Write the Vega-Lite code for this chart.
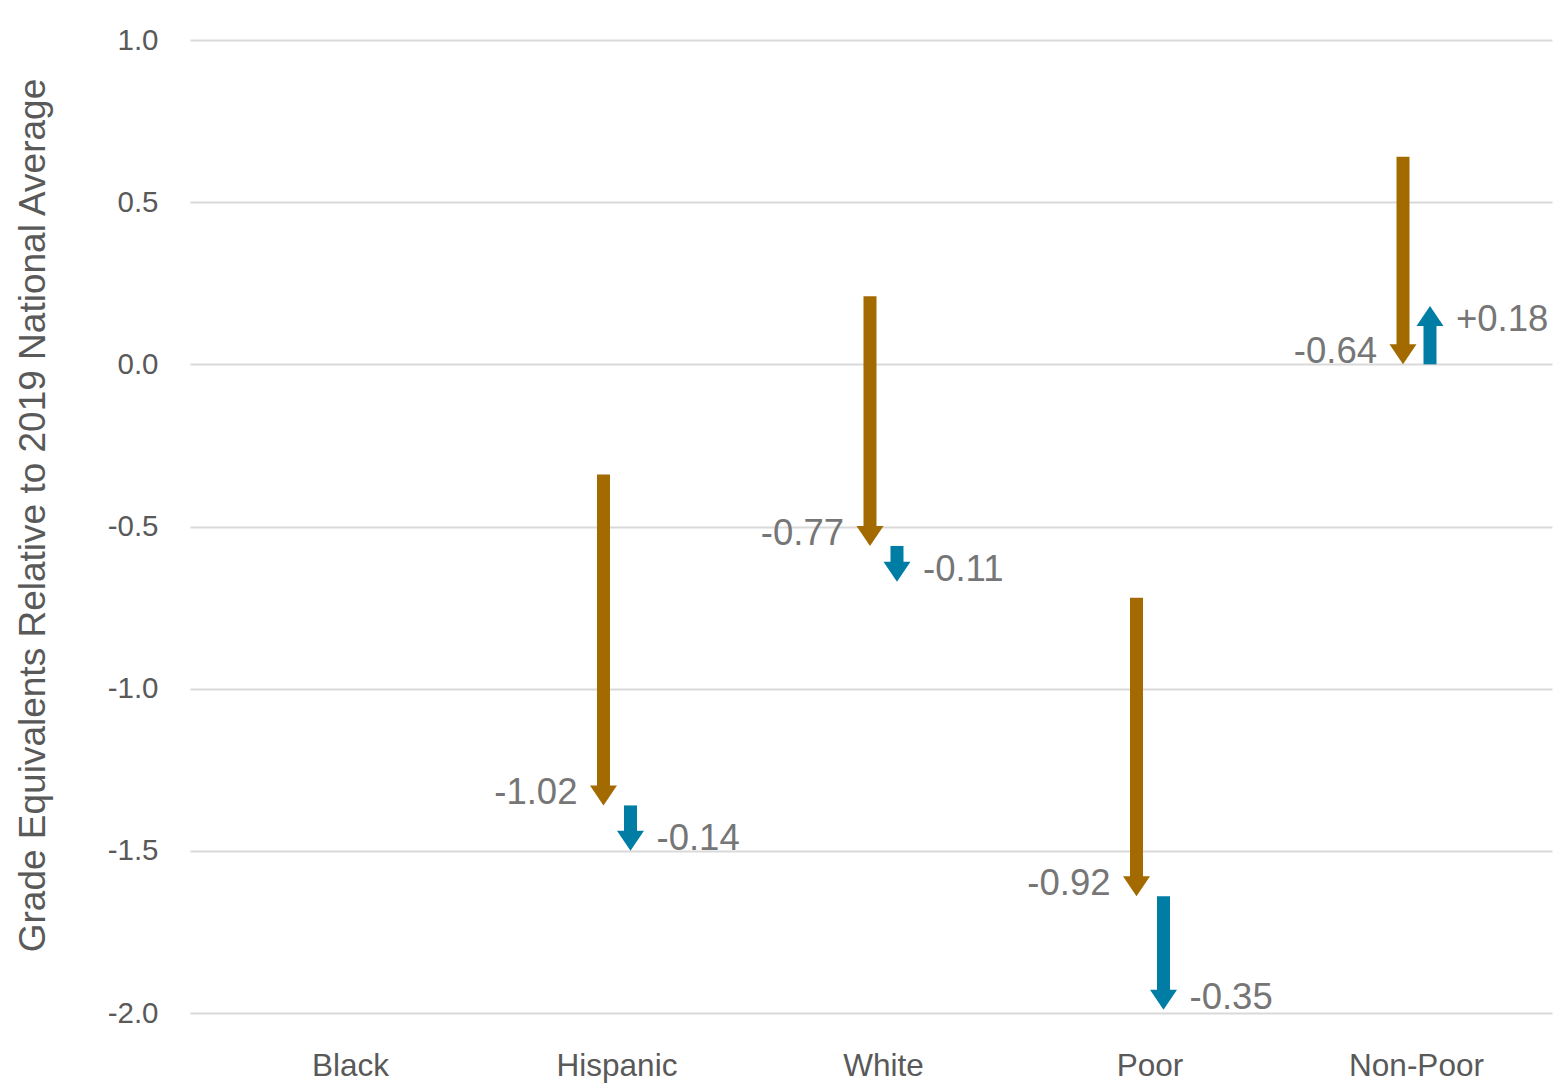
{
  "$schema": "https://vega.github.io/schema/vega-lite/v6.json",
  "autosize": "none",
  "width": 1362,
  "height": 973,
  "padding": {"left": 190, "top": 40, "right": 3, "bottom": 73},
  "background": "white",
  "config": {
    "font": "Liberation Sans",
    "view": {"stroke": null}
  },
  "data": {
    "values": [
      {"group": "Hispanic", "stage": "Stage 1", "start": -0.34, "end": -1.36, "label": "-1.02"},
      {"group": "Hispanic", "stage": "Stage 2", "start": -1.36, "end": -1.50, "label": "-0.14"},
      {"group": "White", "stage": "Stage 1", "start": 0.21, "end": -0.56, "label": "-0.77"},
      {"group": "White", "stage": "Stage 2", "start": -0.56, "end": -0.67, "label": "-0.11"},
      {"group": "Poor", "stage": "Stage 1", "start": -0.72, "end": -1.64, "label": "-0.92"},
      {"group": "Poor", "stage": "Stage 2", "start": -1.64, "end": -1.99, "label": "-0.35"},
      {"group": "Non-Poor", "stage": "Stage 1", "start": 0.64, "end": 0.0, "label": "-0.64"},
      {"group": "Non-Poor", "stage": "Stage 2", "start": 0.0, "end": 0.18, "label": "+0.18"}
    ]
  },
  "encoding": {
    "x": {
      "field": "group",
      "type": "nominal",
      "sort": null,
      "scale": {
        "type": "point",
        "domain": ["Black", "Hispanic", "White", "Poor", "Non-Poor"],
        "padding": 0.5553,
        "align": 0.5405
      },
      "axis": {
        "title": null,
        "labelAngle": 0,
        "domain": false,
        "ticks": false,
        "grid": false,
        "labelPadding": 37,
        "labelFontSize": 31.5,
        "labelColor": "#595959"
      }
    },
    "xOffset": {
      "field": "stage",
      "type": "nominal",
      "scale": {"type": "point", "domain": ["Stage 1", "Stage 2"], "range": [-13, 14], "padding": 0}
    },
    "color": {
      "field": "stage",
      "type": "nominal",
      "scale": {"domain": ["Stage 1", "Stage 2"], "range": ["#A36A00", "#007DA5"]},
      "legend": null
    }
  },
  "layer": [
    {
      "transform": [{"filter": "datum.end < datum.start"}],
      "mark": {"type": "rule", "strokeWidth": 13, "strokeCap": "butt", "y2Offset": -19},
      "encoding": {
        "y": {
          "field": "start",
          "type": "quantitative",
          "scale": {"domain": [-2, 1], "nice": false, "zero": false},
          "title": "Grade Equivalents Relative to 2019 National Average",
          "axis": {
            "values": [-2, -1.5, -1, -0.5, 0, 0.5, 1],
            "labelExpr": "replace(format(datum.value, '.1f'), '\u2212', '-')",
            "domain": false,
            "ticks": false,
            "grid": true,
            "gridColor": "#D9D9D9",
            "gridWidth": 2,
            "labelPadding": 32,
            "labelFontSize": 29.5,
            "labelColor": "#595959",
            "titleFontSize": 37,
            "titleFontWeight": "normal",
            "titleColor": "#595959",
            "titlePadding": 55,
            "titleY": 475
          }
        },
        "y2": {"field": "end"}
      }
    },
    {
      "transform": [{"filter": "datum.end > datum.start"}],
      "mark": {"type": "rule", "strokeWidth": 13, "strokeCap": "butt", "y2Offset": 19},
      "encoding": {
        "y": {"field": "start", "type": "quantitative", "title": "Grade Equivalents Relative to 2019 National Average"},
        "y2": {"field": "end"}
      }
    },
    {
      "transform": [{"filter": "datum.end < datum.start"}],
      "mark": {"type": "point", "shape": "M -1 -1.48 L 1 -1.48 L 0 0 Z", "filled": true, "opacity": 1, "size": 729, "strokeWidth": 0},
      "encoding": {
        "y": {"field": "end", "type": "quantitative", "title": "Grade Equivalents Relative to 2019 National Average"}
      }
    },
    {
      "transform": [{"filter": "datum.end > datum.start"}],
      "mark": {"type": "point", "shape": "M -1 1.48 L 1 1.48 L 0 0 Z", "filled": true, "opacity": 1, "size": 729, "strokeWidth": 0},
      "encoding": {
        "y": {"field": "end", "type": "quantitative", "title": "Grade Equivalents Relative to 2019 National Average"}
      }
    },
    {
      "transform": [{"filter": "datum.stage == 'Stage 1'"}],
      "mark": {"type": "text", "align": "right", "baseline": "middle", "dx": -26, "dy": -12, "fontSize": 36.5},
      "encoding": {
        "y": {"field": "end", "type": "quantitative", "title": "Grade Equivalents Relative to 2019 National Average"},
        "text": {"field": "label"},
        "color": {"value": "#767676"}
      }
    },
    {
      "transform": [{"filter": "datum.stage == 'Stage 2' && datum.end < datum.start"}],
      "mark": {"type": "text", "align": "left", "baseline": "middle", "dx": 26, "dy": -12, "fontSize": 36.5},
      "encoding": {
        "y": {"field": "end", "type": "quantitative", "title": "Grade Equivalents Relative to 2019 National Average"},
        "text": {"field": "label"},
        "color": {"value": "#767676"}
      }
    },
    {
      "transform": [{"filter": "datum.stage == 'Stage 2' && datum.end > datum.start"}],
      "mark": {"type": "text", "align": "left", "baseline": "middle", "dx": 26, "dy": 14, "fontSize": 36.5},
      "encoding": {
        "y": {"field": "end", "type": "quantitative", "title": "Grade Equivalents Relative to 2019 National Average"},
        "text": {"field": "label"},
        "color": {"value": "#767676"}
      }
    }
  ]
}
